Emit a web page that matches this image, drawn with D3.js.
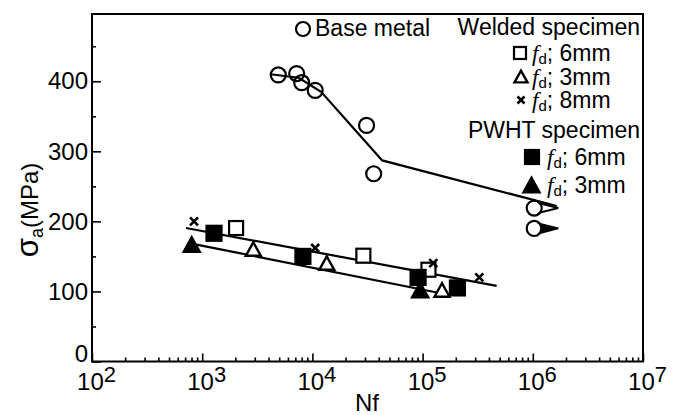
<!DOCTYPE html>
<html><head><meta charset="utf-8">
<script src="https://cdn.jsdelivr.net/npm/d3@7"></script>
<style>body{margin:0;background:#fff} svg{display:block}</style>
</head><body>
<svg id="chart" width="675" height="415"></svg>
<script>
// ---- data ----
const baseMetalN = [4.9e3, 7.2e3, 8.0e3, 1.06e4, 3.1e4, 3.6e4];
const baseMetalS = [409, 411, 398, 387, 337, 268];
const runoutN = [1.03e6, 1.03e6];
const runoutS = [219, 190];
const weld6N = [2.03e3, 2.9e4, 1.13e5];
const weld6S = [190.5, 151, 131];
const weld3N = [2.91e3, 1.35e4, 1.5e5];
const weld3S = [160.5, 140.5, 102];
const weld8N = [843, 1.06e4, 1.25e5, 3.27e5];
const weld8S = [200, 162, 140.5, 120];
const pwht6N = [1.28e3, 8.2e3, 9.1e4, 2.07e5];
const pwht6S = [183, 150, 120, 105];
const pwht3N = [803, 9.5e4];
const pwht3S = [167, 102];
const baseFitN = [4.17e3, 7.5e3, 1.2e4, 4.3e4, 1.65e6];
const baseFitS = [410, 405, 385, 287, 222];
const upperFitN = [713, 4.7e5];
const upperFitS = [190.5, 108];
const lowerFitN = [820, 1.5e5];
const lowerFitS = [168, 97];
const xTickExps = [2, 3, 4, 5, 6, 7];
const yTicks = [0, 100, 200, 300, 400];
const yMinorTicks = [50, 150, 250, 350, 450];

// ---- layout ----
const svg = d3.select("#chart");
const L = 92, R = 643, T = 14, B = 361.5;
const x = d3.scaleLog().domain([1e2, 1e7]).range([L, R]);
const y = d3.scaleLinear().domain([0, 496]).range([B, T]);
const FONT = "'Liberation Sans', Arial, Helvetica, sans-serif";
const zip = (a, b) => a.map((v, i) => [v, b[i]]);

// frame
svg.append("rect").attr("x", L).attr("y", T).attr("width", R - L).attr("height", B - T)
  .attr("fill", "none").attr("stroke", "#000").attr("stroke-width", 2);

// y axis
const yAx = svg.append("g").attr("transform", `translate(${L},0)`)
  .call(d3.axisLeft(y).tickValues(yTicks).tickSizeInner(-9).tickSizeOuter(0).tickPadding(4));
svg.append("g").attr("transform", `translate(${L},0)`)
  .call(d3.axisLeft(y).tickValues(yMinorTicks).tickSizeInner(-4).tickSizeOuter(0).tickFormat(""));
// x axis
const majors = xTickExps.map(e => Math.pow(10, e));
const minors = [];
for (let e = 2; e < 7; e++) for (let m = 2; m <= 9; m++) minors.push(m * Math.pow(10, e));
const xAx = svg.append("g").attr("transform", `translate(0,${B})`)
  .call(d3.axisBottom(x).tickValues(majors).tickSizeInner(-8).tickSizeOuter(0).tickPadding(11));
svg.append("g").attr("transform", `translate(0,${B})`)
  .call(d3.axisBottom(x).tickValues(minors).tickSizeInner(-4).tickSizeOuter(0).tickFormat(""));

svg.selectAll(".domain").remove();
svg.selectAll(".tick line").attr("stroke", "#000").attr("stroke-width", 1.6);
yAx.selectAll(".tick text").attr("font-family", FONT).attr("font-size", 24).attr("fill", "#000")
  .attr("dy", d => d === 0 ? "0.0em" : "0.32em");
xAx.selectAll(".tick text").each(function(d) {
  const t = d3.select(this).text(null).attr("font-family", FONT).attr("font-size", 24)
    .attr("fill", "#000").attr("text-anchor", "middle").attr("dx", 4);
  t.append("tspan").text("10");
  t.append("tspan").attr("dy", -8).attr("font-size", 22).text(Math.round(Math.log10(d)));
});

// axis titles
svg.append("text").attr("x", 367).attr("y", 411).attr("text-anchor", "middle")
  .attr("font-family", FONT).attr("font-size", 24).text("Nf");
const yt = svg.append("text").attr("transform", "translate(38,210) rotate(-90)")
  .attr("text-anchor", "middle").attr("font-family", FONT).attr("font-size", 24);
yt.append("tspan").attr("font-size", 31).text("σ");
yt.append("tspan").attr("font-size", 18).attr("dy", 5).text("a");
yt.append("tspan").attr("dy", -5).text("(MPa)");

// ---- lines ----
const line = d3.line().x(d => x(d[0])).y(d => y(d[1]));
[[baseFitN, baseFitS], [upperFitN, upperFitS], [lowerFitN, lowerFitS]].forEach(([n, s]) => {
  svg.append("path").attr("d", line(zip(n, s))).attr("fill", "none")
    .attr("stroke", "#000").attr("stroke-width", 2.2);
});

// ---- markers ----
const g = svg.append("g");
function circle(sel, cx, cy, r) {
  sel.append("circle").attr("cx", cx).attr("cy", cy).attr("r", r)
    .attr("fill", "none").attr("stroke", "#000").attr("stroke-width", 2.2);
}
function square(sel, cx, cy, s, filled) {
  sel.append("rect").attr("x", cx - s / 2).attr("y", cy - s / 2).attr("width", s).attr("height", s)
    .attr("fill", filled ? "#000" : "#fff").attr("stroke", "#000").attr("stroke-width", 2.2);
}
function tri(sel, cx, cy, s, filled) {
  const h = s * 0.9;
  sel.append("path").attr("d", `M${cx - s / 2},${cy + h / 2}L${cx + s / 2},${cy + h / 2}L${cx},${cy - h / 2}Z`)
    .attr("fill", filled ? "#000" : "#fff").attr("stroke", "#000").attr("stroke-width", 2.4)
    .attr("stroke-linejoin", "miter");
}
function cross(sel, cx, cy, s) {
  const h = s / 2;
  sel.append("path").attr("d", `M${cx - h},${cy - h}L${cx + h},${cy + h}M${cx - h},${cy + h}L${cx + h},${cy - h}`)
    .attr("stroke", "#000").attr("stroke-width", 2.6);
}

zip(baseMetalN, baseMetalS).forEach(d => circle(g, x(d[0]), y(d[1]), 7.5));
zip(runoutN, runoutS).forEach((d, i) => {
  const cx = x(d[0]), cy = y(d[1]);
  g.append("path").attr("d", `M${cx + 4},${cy - 5}L${cx + 24},${cy}L${cx + 4},${cy + 5}Z`)
    .attr("fill", i === 0 ? "#fff" : "#000").attr("stroke", "#000").attr("stroke-width", 2);
  circle(g, cx, cy, 7.5);
  g.append("circle").attr("cx", cx).attr("cy", cy).attr("r", 6).attr("fill", "#fff");
});
zip(weld6N, weld6S).forEach(d => square(g, x(d[0]), y(d[1]), 14, false));
zip(weld3N, weld3S).forEach(d => tri(g, x(d[0]), y(d[1]), 15, false));
zip(pwht6N, pwht6S).forEach(d => square(g, x(d[0]), y(d[1]), 15, true));
zip(pwht3N, pwht3S).forEach(d => tri(g, x(d[0]), y(d[1]), 16, true));
zip(weld8N, weld8S).forEach(d => cross(g, x(d[0]), y(d[1]), 8));

// ---- legend ----
const lg = svg.append("g").attr("font-family", FONT).attr("font-size", 23).attr("fill", "#000");
circle(lg, 303, 29, 7);
lg.append("text").attr("x", 315).attr("y", 36).text("Base metal");
lg.append("text").attr("x", 640).attr("y", 35).attr("text-anchor", "end").text("Welded specimen");
lg.append("text").attr("x", 640).attr("y", 138).attr("text-anchor", "end").text("PWHT specimen");
function fdLabel(xx, yy, mm) {
  const t = lg.append("text").attr("x", xx).attr("y", yy);
  t.append("tspan").attr("font-family", "'Liberation Serif', serif").attr("font-style", "italic").text("f");
  t.append("tspan").attr("font-size", 15).attr("dy", 3).text("d");
  t.append("tspan").attr("dy", -3).text("; " + mm);
}
square(lg, 520, 53, 12, false); fdLabel(532, 61, "6mm");
tri(lg, 521, 76.5, 13, false); fdLabel(532, 84.5, "3mm");
cross(lg, 521, 100, 7); fdLabel(532, 108, "8mm");
square(lg, 532, 157, 14, true); fdLabel(547, 165, "6mm");
tri(lg, 531.5, 185, 16, true); fdLabel(547, 193, "3mm");
</script>
</body></html>
